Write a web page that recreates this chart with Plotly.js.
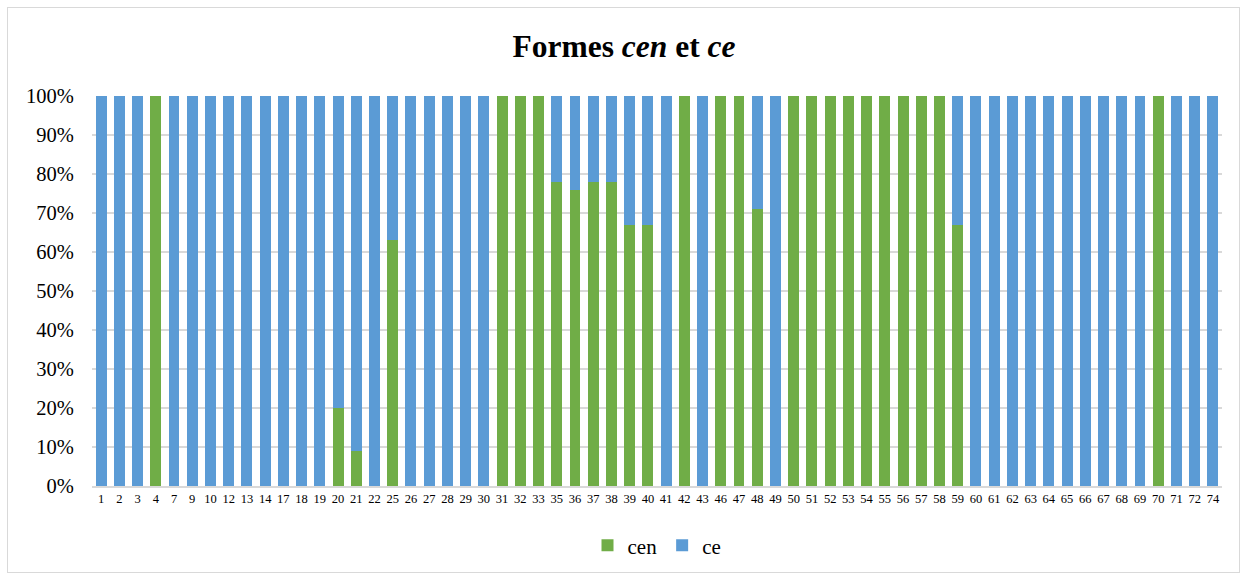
<!DOCTYPE html>
<html>
<head>
<meta charset="utf-8">
<script src="https://cdn.plot.ly/plotly-3.0.1.min.js"></script>
<style>
html,body{margin:0;padding:0;background:#fff;}
#wrap{position:relative;width:1248px;height:578px;}
#chart{width:1248px;height:578px;}
#frame{position:absolute;left:7px;top:7px;width:1233px;height:566px;border:1px solid #d9d9d9;pointer-events:none;box-sizing:border-box;}
</style>
</head>
<body>
<div id="wrap"><div id="chart"></div><div id="frame"></div></div>
<script>
const categories = ["1","2","3","4","7","9","10","12","13","14","17","18","19","20","21","22","25","26","27","28","29","30","31","32","33","35","36","37","38","39","40","41","42","43","46","47","48","49","50","51","52","53","54","55","56","57","58","59","60","61","62","63","64","65","66","67","68","69","70","71","72","74"];
const cenShare = [0,0,0,1,0,0,0,0,0,0,0,0,0,0.20,0.09,0,0.63,0,0,0,0,0,1,1,1,0.78,0.76,0.78,0.78,0.67,0.67,0,1,0,1,1,0.71,0,1,1,1,1,1,1,1,1,1,0.67,0,0,0,0,0,0,0,0,0,0,1,0,0,0];
const ceShare = cenShare.map(v => Math.round((1 - v) * 100) / 100);
const seriesNames = ["cen", "ce"];
const seriesColors = ["#70ad47", "#5b9bd5"];

const traces = [
  {type:'bar', name:seriesNames[0], x:categories, y:cenShare, marker:{color:seriesColors[0]}},
  {type:'bar', name:seriesNames[1], x:categories, y:ceShare, marker:{color:seriesColors[1]}}
];
const serif = "Liberation Serif";
const layout = {
  width:1248, height:578,
  margin:{l:92, r:26, t:96, b:90},
  paper_bgcolor:'#fff', plot_bgcolor:'#fff',
  barmode:'stack', bargap:0.4,
  showlegend:true,
  title:{text:'<b>Formes <i>cen</i> et <i>ce</i></b>', x:0.5, xanchor:'center', y:1-46/578, yanchor:'middle', font:{family:serif, size:31.5, color:'#000'}},
  xaxis:{type:'category', tickfont:{family:serif, size:12.5, color:'#000'}, showline:true, linecolor:'#d9d9d9', linewidth:2, ticks:'', showgrid:false, zeroline:false, fixedrange:true},
  yaxis:{range:[0,1], dtick:0.1, tick0:0, tickformat:'.0%', tickfont:{family:serif, size:20.5, color:'#000'}, showgrid:true, gridcolor:'#d9d9d9', gridwidth:1.5, zeroline:false, showline:false, ticks:'outside', ticklen:13, tickcolor:'rgba(0,0,0,0)', fixedrange:true},
  legend:{orientation:'h', x:0.5, xanchor:'center', y:-0.153, yanchor:'middle', font:{family:serif, size:21, color:'#000'}, traceorder:'normal', itemwidth:30}
};
Plotly.newPlot('chart', traces, layout, {displayModeBar:false, staticPlot:true});
</script>
</body>
</html>
